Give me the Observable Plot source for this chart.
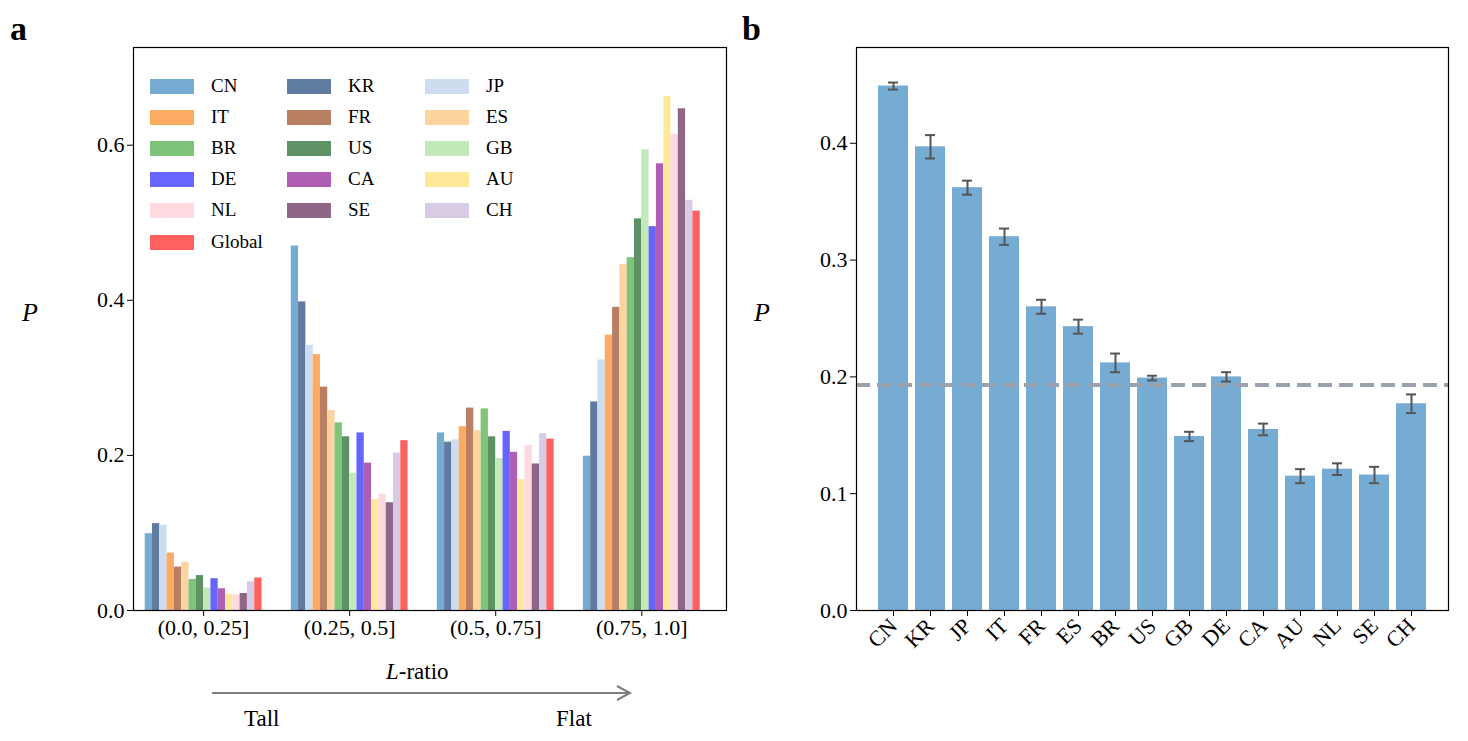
<!DOCTYPE html>
<html><head><meta charset="utf-8">
<script src="https://cdn.jsdelivr.net/npm/d3@7"></script>
<script src="https://cdn.jsdelivr.net/npm/@observablehq/plot@0.6"></script>
<style>
body{margin:0;background:#fff;font-family:"Liberation Serif",serif;}
#wrap{position:relative;width:1468px;height:741px;}
.abs{position:absolute;}
.lab{font-size:34px;font-weight:bold;}
.P{font-size:26px;font-style:italic;}
.leg{font-size:19px;display:flex;align-items:center;}
.sw{width:44px;height:15px;margin-right:17px;}
</style></head><body>
<div id="wrap"></div>
<script>
const countries = ["CN","KR","JP","IT","FR","ES","BR","US","GB","DE","CA","AU","NL","SE","CH","Global"];
const colors = ["#76acd3","#5f7ba0","#cddcef","#fdab63","#b97f63","#fdd4a0","#7ec47a","#5e9163","#c3e8b9","#6666ff","#ae5eb3","#fee99a","#fdd9e0","#8e6786","#d8cce5","#ff6060"];
const groups = ["(0.0, 0.25]","(0.25, 0.5]","(0.5, 0.75]","(0.75, 1.0]"];
const g1 = [0.099,0.112,0.110,0.074,0.056,0.062,0.040,0.045,0.029,0.041,0.028,0.021,0.020,0.022,0.037,0.042];
const g2 = [0.470,0.398,0.342,0.330,0.288,0.258,0.242,0.224,0.177,0.229,0.190,0.143,0.150,0.139,0.203,0.219];
const g3 = [0.229,0.217,0.220,0.237,0.261,0.232,0.260,0.224,0.196,0.231,0.204,0.169,0.213,0.189,0.228,0.221];
const g4 = [0.199,0.269,0.323,0.355,0.391,0.446,0.455,0.505,0.594,0.495,0.576,0.663,0.614,0.647,0.529,0.515];
const bCountries = ["CN","KR","JP","IT","FR","ES","BR","US","GB","DE","CA","AU","NL","SE","CH"];
const bValues = [0.449,0.397,0.362,0.320,0.260,0.243,0.212,0.199,0.149,0.200,0.155,0.115,0.121,0.116,0.177];
const bErr = [0.003,0.010,0.006,0.007,0.006,0.006,0.008,0.002,0.004,0.004,0.005,0.006,0.005,0.007,0.008];
const globalMean = 0.193;

const font = "Liberation Serif, serif";
const wrap = document.getElementById("wrap");
function place(el, x, y){el.classList.add("abs");el.style.left=x+"px";el.style.top=y+"px";wrap.appendChild(el);return el;}
function div(html, cls, x, y){const d=document.createElement("div");d.className=cls||"";d.innerHTML=html;return place(d,x,y);}

// Panel a
const w = 0.05;
const rows = [];
[g1,g2,g3,g4].forEach((vals,gi)=>vals.forEach((v,ci)=>rows.push({g:gi,c:countries[ci],x1:gi+(ci-8)*w,x2:gi+(ci-7)*w,v})));
const pa = Plot.plot({
  width:740,height:650,marginLeft:133,marginRight:14,marginTop:47,marginBottom:40,
  style:{fontFamily:font,fontSize:"22px",color:"#000"},
  x:{domain:[-0.48,3.58],ticks:[0,1,2,3],tickFormat:i=>groups[i],tickSize:6,label:null},
  y:{domain:[0,0.726],ticks:[0,0.2,0.4,0.6],tickFormat:d3.format(".1f"),tickSize:6,label:null},
  color:{domain:countries,range:colors},
  marks:[
    Plot.rectY(rows,{x1:"x1",x2:"x2",y:"v",fill:"c"}),
    Plot.frame({stroke:"#000",strokeWidth:1.2})
  ]
});
place(pa,0,0);

// Panel b
const brows = bCountries.map((c,i)=>({c,v:bValues[i],lo:bValues[i]-bErr[i],hi:bValues[i]+bErr[i]}));
const pb = Plot.plot({
  width:720,height:700,marginLeft:116,marginRight:12,marginTop:47,marginBottom:90,
  style:{fontFamily:font,fontSize:"22px",color:"#000"},
  x:{domain:bCountries,paddingInner:0.2,paddingOuter:0.5,tickRotate:-45,tickSize:6,label:null},
  y:{domain:[0,0.482],ticks:[0,0.1,0.2,0.3,0.4],tickFormat:d3.format(".1f"),tickSize:6,label:null},
  marks:[
    Plot.barY(brows,{x:"c",y:"v",fill:"#76acd3"}),
    Plot.ruleX(brows,{x:"c",y1:"lo",y2:"hi",stroke:"#555",strokeWidth:2}),
    Plot.tickY(brows,{x:"c",y:"lo",stroke:"#555",strokeWidth:2,insetLeft:10,insetRight:10}),
    Plot.tickY(brows,{x:"c",y:"hi",stroke:"#555",strokeWidth:2,insetLeft:10,insetRight:10}),
    Plot.ruleY([globalMean],{stroke:"#9aa3ad",strokeWidth:4,strokeDasharray:"14,7"}),
    Plot.frame({stroke:"#000",strokeWidth:1.2})
  ]
});
place(pb,740,0);

div("a","lab",10,10);
div("b","lab",742,10);
div("P","P",22,298);
div("P","P",754,298);
div('<i>L</i>-ratio',"",386,659).style.fontSize="23px";
div("Tall","",244,706).style.fontSize="23px";
div("Flat","",556,706).style.fontSize="23px";
// arrow
const ns="http://www.w3.org/2000/svg";
const s=document.createElementNS(ns,"svg");s.setAttribute("width","440");s.setAttribute("height","20");
s.innerHTML='<line x1="0" y1="10" x2="416" y2="10" stroke="#7f7f7f" stroke-width="2"/><path d="M405,3 L418,10 L405,17" fill="none" stroke="#7f7f7f" stroke-width="2"/>';
s.style.position="absolute";s.style.left="212px";s.style.top="683px";wrap.appendChild(s);

// legend
const colX=[150,287,425], rowY=[75,106,137,168,199,231];
const order=[["CN","IT","BR","DE","NL","Global"],["KR","FR","US","CA","SE"],["JP","ES","GB","AU","CH"]];
order.forEach((col,ci)=>col.forEach((c,ri)=>{
  const col_=colors[countries.indexOf(c)];
  div(`<span class="sw" style="background:${col_}"></span><span>${c}</span>`,"leg",colX[ci],rowY[ri]);
}));
</script></body></html>
